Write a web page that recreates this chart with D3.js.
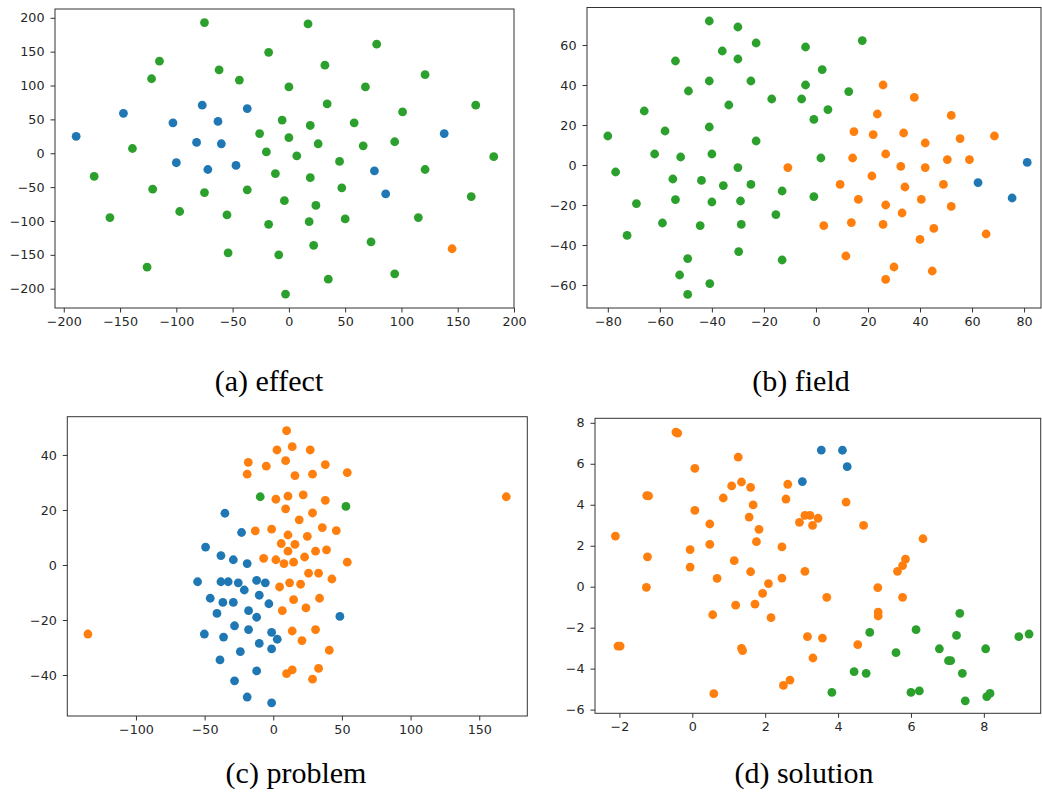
<!DOCTYPE html>
<html>
<head>
<meta charset="utf-8">
<script src="https://cdn.jsdelivr.net/npm/d3@7"></script>
<style>
  body { margin: 0; background: #fff; }
  .tick text { font-family: "DejaVu Sans", sans-serif; font-size: 12.7px; fill: #262626; }
  .tick line { stroke: #333; }
  .caption { font-family: "Liberation Serif", "Times New Roman", serif; font-size: 30px; fill: #000; }
</style>
</head>
<body>
<svg id="chart" width="1042" height="794"></svg>
<script>
const blue = '#1f77b4', orange = '#ff7f0e', green = '#2ca02c';

// (a) effect
const effectBlue = [[-189,25],[-147,59],[-103,45],[-77,71],[-63,47],[-37,66],[-82,16],[-60,14],[-100,-14],[-72,-24],[-47,-18],[138,29],[76,-26],[86,-60]];
const effectOrange = [[145,-141]];
const effectGreen = [[-75,193],[-18,149],[-115,136],[-122,110],[-62,123],[-44,108],[0,98],[-6,49],[-26,29],[0,23],[-139,7],[-20,2],[7,-4],[-173,-34],[-12,-30],[-121,-53],[-75,-58],[-37,-54],[-4,-70],[-159,-95],[-97,-86],[-55,-91],[-18,-105],[-54,-147],[-9,-150],[-126,-168],[-3,-208],[17,191],[78,161],[32,130],[121,116],[68,98],[34,73],[166,71],[101,61],[19,41],[58,45],[26,14],[66,11],[94,17],[182,-5],[45,-12],[19,-36],[121,-24],[47,-51],[24,-77],[162,-64],[18,-101],[50,-97],[115,-95],[22,-136],[73,-131],[35,-186],[94,-178]];

// (b) field
const fieldBlue = [[81.2,1.3],[62.3,-8.8],[75.4,-16.5]];
const fieldOrange = [[-10.8,-1.3],[25.8,40],[37.8,33.8],[23.6,25.5],[52,24.8],[14.6,16.7],[22,15.2],[33.7,16],[42,11],[55.4,13.2],[68.6,14.5],[14.1,3.5],[26.8,5.5],[32.6,-0.7],[42,-1.3],[50.5,2.7],[59,2.7],[21.5,-5.5],[9.3,-9.7],[34.2,-11],[49,-9.7],[16.3,-17.2],[26.8,-20],[40.5,-17.2],[52,-20.7],[33.1,-24],[3,-30.3],[13.6,-28.8],[25.8,-29.7],[45.3,-31.7],[40,-37.2],[65.4,-34.5],[11.5,-45.5],[30,-51],[44.7,-53],[26.8,-57.2]];
const fieldGreen = [[-41,72],[-30,69],[-23,61],[-4,59],[-36,57],[-30,53],[-54,52],[-41,42],[-25,42],[-4,40],[-49,37],[-17,33],[-5.5,33],[-33.5,30],[-66,27],[-58,17],[-41,19],[-80,14.5],[-23,12],[-62,5.5],[-52,4],[-40,5.5],[-77,-3.5],[-30,-1.3],[-55,-7],[-44,-7.7],[-35.6,-10.3],[-25,-9.7],[-13,-13],[-69,-19.3],[-54,-17.3],[-40,-18.5],[-29,-18],[-15.4,-24.8],[-59,-29],[-44.5,-30.3],[-28.7,-29.7],[-72.6,-35.2],[-29.7,-43.3],[-13,-47.5],[-49.3,-46.8],[-52.4,-55],[-40.8,-59.3],[-49.3,-64.7],[17.8,62.2],[2.4,47.7],[12.6,36.7],[4.6,27.7],[-0.8,22.8],[1.9,3.5],[-0.8,-15.8]];

// (c) problem
const problemBlue = [[-35.2,18.8],[-23.1,11.8],[-49.3,6.5],[-38.1,3.4],[-29.1,1.9],[-19,0.5],[-55.1,-6.1],[-38.1,-6.1],[-32.8,-6.1],[-25.5,-6.5],[-12.1,-5.6],[-5.8,-6.5],[-21.1,-9.1],[-45.9,-12.1],[-36.7,-13.6],[-29.1,-13.6],[-10.2,-11],[-3.2,-14.1],[-41,-17.6],[-18,-16.6],[-12.1,-19],[-50.2,-25.1],[-36.2,-26.2],[-28.2,-22.1],[-18,-23.5],[-1.2,-24.5],[2.9,-27],[-10.2,-28.5],[-1.2,-30.5],[-24,-31.5],[-38.8,-34.5],[-12.1,-38.5],[-28.2,-42.1],[-19,-48],[-1.2,-50.1],[48.5,-18.7]];
const problemOrange = [[-135,-25.1],[9.7,48.8],[2.7,41.8],[13.8,43],[-18.2,37.3],[-5.1,35.9],[9,37.9],[-19,33],[15.8,32.5],[1.9,23.9],[10.7,25],[9,20.4],[18.9,16.4],[-13.1,12.4],[-1.2,13],[10.7,10.9],[5.8,7.8],[15.8,7.5],[10.7,5],[-7,2.4],[1.9,1.9],[7.8,0.5],[14.8,1],[4.6,-8],[11.9,-6.5],[19.9,-7],[14.8,-12.6],[6.6,-16.6],[13.8,-24],[20.9,-27.5],[13.8,-38.1],[9.7,-39.5],[26.9,41.8],[37.9,36.5],[28.6,33],[53.9,33.6],[21.8,25.5],[37.9,23.5],[28.6,18.9],[35.7,13.6],[45.9,12.5],[24.8,10.4],[22.8,2.9],[30.8,5],[38.8,5.5],[53.9,1],[25.7,-3],[33,-3],[42.7,-5.1],[33.7,-12.1],[23.8,-15.6],[30.8,-23.5],[40.8,-31],[33,-37.6],[28.6,-41.5],[169.7,24.8]];
const problemGreen = [[-9.5,24.8],[52.9,21.3]];

// (d) solution
const solutionBlue = [[3.54,6.67],[4.12,6.66],[4.25,5.86],[3.02,5.13]];
const solutionOrange = [[-0.45,7.55],[-0.4,7.5],[1.26,6.32],[0.07,5.78],[1.08,4.92],[1.35,5.11],[1.6,4.85],[2.62,5],[-1.25,4.45],[-1.2,4.43],[0.85,4.33],[2.57,4.28],[1.67,3.99],[0.07,3.73],[1.56,3.4],[0.48,3.06],[1.83,2.8],[1.76,2.2],[0.48,2.07],[2.46,1.94],[-0.06,1.81],[-2.11,2.47],[-1.23,1.46],[1.15,1.27],[-0.06,0.96],[1.6,0.73],[0.68,0.41],[2.46,0.42],[-1.26,-0.03],[2.09,0.15],[1.93,-0.33],[1.19,-0.9],[1.72,-0.85],[0.56,-1.37],[2.16,-1.51],[-2.04,-2.9],[-1.98,-2.9],[1.35,-3.01],[1.38,-3.12],[2.5,-4.82],[2.68,-4.56],[0.59,-5.22],[4.22,4.13],[2.94,3.14],[3.09,3.48],[3.23,3.48],[3.45,3.34],[3.3,2.99],[4.7,2.99],[6.33,2.34],[5.85,1.35],[5.77,1.03],[5.63,0.75],[3.09,0.75],[5.09,-0.05],[3.69,-0.52],[5.77,-0.52],[5.1,-1.24],[5.1,-1.43],[3.16,-2.44],[3.57,-2.51],[4.54,-2.83],[3.31,-3.48]];
const solutionGreen = [[7.34,-1.3],[4.87,-2.23],[6.14,-2.1],[7.25,-2.38],[8.96,-2.44],[9.24,-2.31],[6.78,-3.03],[8.05,-3.03],[5.59,-3.22],[7.03,-3.61],[7.09,-3.61],[4.44,-4.15],[4.77,-4.23],[7.41,-4.23],[3.83,-5.16],[6,-5.16],[6.23,-5.09],[7.49,-5.57],[8.08,-5.37],[8.17,-5.21]];

// tick labels
const effectXTicks = [-200,-150,-100,-50,0,50,100,150,200];
const effectYTicks = [-200,-150,-100,-50,0,50,100,150,200];
const fieldXTicks = [-80,-60,-40,-20,0,20,40,60,80];
const fieldYTicks = [-60,-40,-20,0,20,40,60];
const problemXTicks = [-100,-50,0,50,100,150];
const problemYTicks = [-40,-20,0,20,40];
const solutionXTicks = [-2,0,2,4,6,8];
const solutionYTicks = [-6,-4,-2,0,2,4,6,8];

const captions = ['(a) effect', '(b) field', '(c) problem', '(d) solution'];

const panels = [
  {box: [55, 9, 514, 308], xd: [-207.8, 200], yd: [-228.5, 213],
   xt: effectXTicks, yt: effectYTicks,
   series: [[effectBlue, blue], [effectOrange, orange], [effectGreen, green]],
   cap: [269, 391]},
  {box: [587, 7.5, 1041, 308], xd: [-88, 86.5], yd: [-71.5, 78.75],
   xt: fieldXTicks, yt: fieldYTicks,
   series: [[fieldBlue, blue], [fieldOrange, orange], [fieldGreen, green]],
   cap: [801, 391]},
  {box: [67.3, 416.7, 527.3, 716], xd: [-150, 185], yd: [-54.9, 53.9],
   xt: problemXTicks, yt: problemYTicks,
   series: [[problemBlue, blue], [problemOrange, orange], [problemGreen, green]],
   cap: [296, 783]},
  {box: [595, 418.3, 1040.7, 713.3], xd: [-2.67, 9.56], yd: [-6.18, 8.22],
   xt: solutionXTicks, yt: solutionYTicks,
   series: [[solutionBlue, blue], [solutionOrange, orange], [solutionGreen, green]],
   cap: [804, 783]}
];

const svg = d3.select('#chart');

panels.forEach((p, i) => {
  const [x0, y0, x1, y1] = p.box;
  const x = d3.scaleLinear().domain(p.xd).range([x0, x1]);
  const y = d3.scaleLinear().domain(p.yd).range([y1, y0]);
  const g = svg.append('g');

  g.append('g')
    .attr('transform', `translate(0,${y1})`)
    .call(d3.axisBottom(x).tickValues(p.xt).tickSize(4.5).tickPadding(4.5).tickSizeOuter(0))
    .call(a => a.select('.domain').remove());

  g.append('g')
    .attr('transform', `translate(${x0},0)`)
    .call(d3.axisLeft(y).tickValues(p.yt).tickSize(4.5).tickPadding(6).tickSizeOuter(0))
    .call(a => a.select('.domain').remove());

  p.series.forEach(([data, color]) => {
    g.selectAll(null)
      .data(data)
      .enter()
      .append('circle')
      .attr('cx', d => x(d[0]))
      .attr('cy', d => y(d[1]))
      .attr('r', 4.4)
      .attr('fill', color);
  });

  g.append('rect')
    .attr('x', x0).attr('y', y0)
    .attr('width', x1 - x0).attr('height', y1 - y0)
    .attr('fill', 'none')
    .attr('stroke', '#333')
    .attr('stroke-width', 1);

  g.append('text')
    .attr('class', 'caption')
    .attr('x', p.cap[0]).attr('y', p.cap[1])
    .attr('text-anchor', 'middle')
    .text(captions[i]);
});
</script>
</body>
</html>
